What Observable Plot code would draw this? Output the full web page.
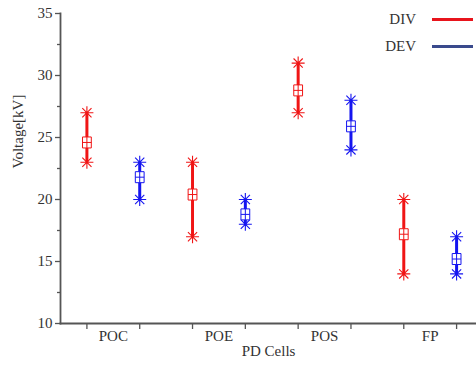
<!DOCTYPE html>
<html>
<head>
<meta charset="utf-8">
<script src="https://cdn.jsdelivr.net/npm/d3@7"></script>
<script src="https://cdn.jsdelivr.net/npm/@observablehq/plot@0.6"></script>
<style>
  html, body { margin: 0; padding: 0; background: #fff; }
  #wrap { position: relative; width: 476px; height: 367px; }
  #wrap svg text { font-family: "Liberation Serif", "Times New Roman", serif; }
  .leg { position: absolute; font-family: "Liberation Serif", serif; font-size: 15px; color: #333; line-height: 18px; }
  .legline { position: absolute; height: 3px; }
</style>
</head>
<body>
<div id="wrap"></div>
<script>
const cells = ["POC", "POE", "POS", "FP"];
const series = ["DIV", "DEV"];
const divMin = [23, 17, 27, 14];
const divMax = [27, 23, 31, 20];
const divMean = [24.6, 20.4, 28.8, 17.2];
const devMin = [20, 18, 24, 14];
const devMax = [23, 20, 28, 17];
const devMean = [21.8, 18.8, 25.9, 15.2];
const yTicks = [10, 15, 20, 25, 30, 35];
const yMinor = [12.5, 17.5, 22.5, 27.5, 32.5];
const xTicks = [1, 2, 3, 4, 5, 6, 7, 8];

const colors = { DIV: "#f01515", DEV: "#1515f0" };
const legendColors = { DIV: "#e8141c", DEV: "#3a4a8c" };

const rows = [];
cells.forEach((c, i) => {
  rows.push({ cell: c, series: "DIV", pos: i * 2 + 1, min: divMin[i], max: divMax[i], mean: divMean[i] });
  rows.push({ cell: c, series: "DEV", pos: i * 2 + 2, min: devMin[i], max: devMax[i], mean: devMean[i] });
});
const ends = rows.flatMap(d => [{ ...d, v: d.min }, { ...d, v: d.max }]);
const labels = cells.map((c, i) => ({ cell: c, pos: i * 2 + 1.5 }));

const star = {
  draw(ctx, size) {
    const r = Math.sqrt(size / Math.PI);
    for (let k = 0; k < 4; k++) {
      const a = k * Math.PI / 4;
      const dx = r * Math.cos(a), dy = r * Math.sin(a);
      ctx.moveTo(-dx, -dy);
      ctx.lineTo(dx, dy);
    }
  }
};
const boxPlus = {
  draw(ctx, size) {
    const r = Math.sqrt(size / Math.PI);
    const w = r * 0.8, h = r;
    ctx.moveTo(-w, -h); ctx.lineTo(w, -h); ctx.lineTo(w, h); ctx.lineTo(-w, h); ctx.closePath();
    ctx.moveTo(-w, 0); ctx.lineTo(w, 0);
    ctx.moveTo(0, -h); ctx.lineTo(0, h);
  }
};

const font = "Liberation Serif, Times New Roman, serif";

const chart = Plot.plot({
  width: 476,
  height: 367,
  marginLeft: 60,
  marginRight: 0,
  marginTop: 13,
  marginBottom: 44,
  style: { fontFamily: font, fontSize: "15px", color: "#333", background: "#fff", overflow: "visible" },
  x: { type: "linear", domain: [0.5, 8.377], axis: null },
  y: { type: "linear", domain: [10, 35], axis: null },
  marks: [
    Plot.axisY({ ticks: yTicks, tickSize: 5, tickFormat: d => d, stroke: "#555", strokeWidth: 1.3, fill: "#333", tickPadding: 3, label: null, fontSize: 15, fontFamily: font }),
    Plot.axisY({ ticks: yMinor, tickSize: 3, tickFormat: () => "", stroke: "#555", strokeWidth: 1.3, label: null }),
    Plot.axisX({ ticks: xTicks, tickSize: 6, tickFormat: () => "", stroke: "#555", strokeWidth: 1.3, label: null }),
    Plot.frame({ anchor: "left", stroke: "#555", strokeWidth: 1.8 }),
    Plot.frame({ anchor: "bottom", stroke: "#555", strokeWidth: 1.8 }),
    Plot.text(labels, { x: "pos", text: "cell", frameAnchor: "bottom", dy: 17, fill: "#333", fontSize: 15, fontFamily: font }),
    Plot.text(["PD Cells"], { frameAnchor: "bottom", dy: 32, fill: "#333", fontSize: 15, fontFamily: font }),
    Plot.text(["Voltage[kV]"], { frameAnchor: "left", dx: -42, rotate: -90, fill: "#333", fontSize: 15, fontFamily: font }),
    Plot.ruleX(rows, { x: "pos", y1: "min", y2: "max", stroke: d => colors[d.series], strokeWidth: 3 }),
    Plot.dot(ends, { x: "pos", y: "v", symbol: star, r: 6.5, stroke: d => colors[d.series], strokeWidth: 1.1 }),
    Plot.dot(rows, { x: "pos", y: "mean", symbol: boxPlus, r: 5.5, stroke: d => colors[d.series], fill: "#fff", strokeWidth: 1 })
  ]
});

const wrap = document.getElementById("wrap");
wrap.appendChild(chart);
series.forEach((s, i) => {
  const t = document.createElement("div");
  t.className = "leg";
  t.textContent = s;
  t.style.right = (476 - 416) + "px";
  t.style.top = (10 + i * 27) + "px";
  wrap.appendChild(t);
  const l = document.createElement("div");
  l.className = "legline";
  l.style.left = "432px";
  l.style.width = "41px";
  l.style.top = (18 + i * 27) + "px";
  l.style.background = legendColors[s];
  wrap.appendChild(l);
});
</script>
</body>
</html>
